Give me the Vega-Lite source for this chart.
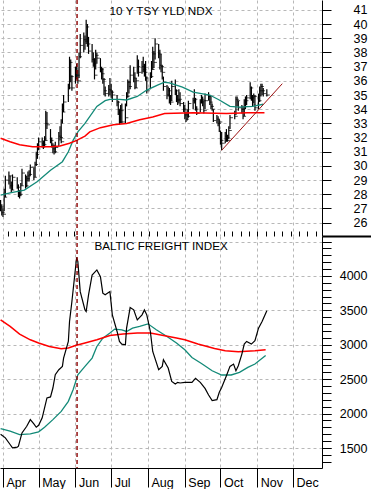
{
"$schema": "https://vega.github.io/schema/vega-lite/v6.json",
"padding": 0,
"background": "white",
"spacing": 0,
"bounds": "flush",
"config": {
  "font": "Liberation Sans",
  "view": {"stroke": null},
  "axis": {"gridColor": "#b8b8b8", "gridDash": [3, 3], "gridWidth": 1, "domainColor": "#000", "tickColor": "#000", "labelColor": "#000", "labelFont": "Liberation Sans", "labelFontSize": 12.5, "title": null}
},
"datasets": {
  "tsy": [
{"d":"2009-03-30","h":27.6,"l":26.8,"c":27.1},{"d":"2009-03-31","h":27.3,"l":26.5,"c":26.7},{"d":"2009-04-01","h":27.0,"l":26.4,"c":26.6},{"d":"2009-04-02","h":28.4,"l":26.8,"c":27.8},{"d":"2009-04-03","h":29.3,"l":27.8,"c":29.0},{"d":"2009-04-06","h":29.6,"l":28.7,"c":29.3},{"d":"2009-04-07","h":29.3,"l":28.4,"c":28.6},{"d":"2009-04-08","h":28.9,"l":28.1,"c":28.3},{"d":"2009-04-09","h":29.4,"l":28.3,"c":29.2},{"d":"2009-04-13","h":29.2,"l":28.4,"c":28.5},{"d":"2009-04-14","h":28.7,"l":27.8,"c":27.9},{"d":"2009-04-15","h":28.3,"l":27.7,"c":28.0},{"d":"2009-04-16","h":28.8,"l":27.9,"c":28.6},{"d":"2009-04-17","h":29.8,"l":28.6,"c":29.5},{"d":"2009-04-20","h":29.4,"l":28.4,"c":28.6},{"d":"2009-04-21","h":29.3,"l":28.5,"c":29.1},{"d":"2009-04-22","h":29.6,"l":28.9,"c":29.3},{"d":"2009-04-23","h":29.7,"l":28.9,"c":29.4},{"d":"2009-04-24","h":30.1,"l":29.3,"c":29.9},{"d":"2009-04-27","h":29.9,"l":29.0,"c":29.2},{"d":"2009-04-28","h":30.3,"l":29.2,"c":30.1},{"d":"2009-04-29","h":31.0,"l":30.0,"c":30.8},{"d":"2009-04-30","h":31.6,"l":30.5,"c":31.2},{"d":"2009-05-01","h":32.0,"l":31.1,"c":31.7},{"d":"2009-05-04","h":32.0,"l":31.3,"c":31.6},{"d":"2009-05-05","h":31.8,"l":31.2,"c":31.5},{"d":"2009-05-06","h":32.1,"l":31.3,"c":31.8},{"d":"2009-05-07","h":33.9,"l":31.8,"c":33.0},{"d":"2009-05-08","h":33.8,"l":32.6,"c":32.9},{"d":"2009-05-11","h":32.6,"l":31.6,"c":31.8},{"d":"2009-05-12","h":32.0,"l":31.3,"c":31.4},{"d":"2009-05-13","h":31.6,"l":30.9,"c":31.2},{"d":"2009-05-14","h":31.5,"l":30.8,"c":31.0},{"d":"2009-05-15","h":31.7,"l":30.9,"c":31.3},{"d":"2009-05-18","h":32.4,"l":31.4,"c":32.1},{"d":"2009-05-19","h":32.8,"l":31.8,"c":32.0},{"d":"2009-05-20","h":33.3,"l":31.6,"c":31.7},{"d":"2009-05-21","h":34.4,"l":33.0,"c":33.8},{"d":"2009-05-22","h":35.0,"l":33.8,"c":34.5},{"d":"2009-05-26","h":35.8,"l":34.5,"c":35.5},{"d":"2009-05-27","h":37.7,"l":35.4,"c":37.3},{"d":"2009-05-28","h":37.5,"l":35.9,"c":36.3},{"d":"2009-05-29","h":36.4,"l":35.3,"c":35.5},{"d":"2009-06-01","h":37.0,"l":35.8,"c":36.9},{"d":"2009-06-02","h":37.2,"l":36.1,"c":36.4},{"d":"2009-06-03","h":36.8,"l":35.8,"c":36.0},{"d":"2009-06-04","h":38.0,"l":36.2,"c":37.7},{"d":"2009-06-05","h":39.3,"l":37.6,"c":38.5},{"d":"2009-06-08","h":39.4,"l":38.0,"c":38.9},{"d":"2009-06-09","h":39.2,"l":38.2,"c":38.8},{"d":"2009-06-10","h":40.3,"l":38.6,"c":39.8},{"d":"2009-06-11","h":40.0,"l":38.4,"c":38.6},{"d":"2009-06-12","h":39.1,"l":37.9,"c":38.1},{"d":"2009-06-15","h":38.6,"l":37.3,"c":37.5},{"d":"2009-06-16","h":38.0,"l":37.0,"c":37.2},{"d":"2009-06-17","h":37.6,"l":36.1,"c":36.4},{"d":"2009-06-18","h":38.2,"l":36.8,"c":37.8},{"d":"2009-06-19","h":38.0,"l":37.2,"c":37.6},{"d":"2009-06-22","h":37.6,"l":36.6,"c":36.8},{"d":"2009-06-23","h":37.0,"l":36.1,"c":36.5},{"d":"2009-06-24","h":36.9,"l":35.8,"c":36.1},{"d":"2009-06-25","h":36.2,"l":35.0,"c":35.3},{"d":"2009-06-26","h":35.6,"l":34.9,"c":35.1},{"d":"2009-06-29","h":35.7,"l":34.9,"c":35.4},{"d":"2009-06-30","h":36.2,"l":35.0,"c":35.3},{"d":"2009-07-01","h":35.8,"l":34.8,"c":35.2},{"d":"2009-07-02","h":35.3,"l":34.5,"c":35.0},{"d":"2009-07-06","h":35.0,"l":34.2,"c":34.5},{"d":"2009-07-07","h":34.6,"l":33.6,"c":34.0},{"d":"2009-07-08","h":34.0,"l":32.9,"c":33.1},{"d":"2009-07-09","h":34.3,"l":33.0,"c":33.9},{"d":"2009-07-10","h":34.4,"l":33.0,"c":33.1},{"d":"2009-07-13","h":34.4,"l":33.0,"c":33.4},{"d":"2009-07-14","h":35.2,"l":34.2,"c":34.9},{"d":"2009-07-15","h":36.1,"l":34.8,"c":35.9},{"d":"2009-07-16","h":36.0,"l":35.1,"c":35.6},{"d":"2009-07-17","h":37.1,"l":35.4,"c":36.4},{"d":"2009-07-20","h":37.0,"l":35.9,"c":36.2},{"d":"2009-07-21","h":36.6,"l":35.4,"c":35.5},{"d":"2009-07-22","h":36.2,"l":35.5,"c":36.0},{"d":"2009-07-23","h":37.8,"l":36.5,"c":37.0},{"d":"2009-07-24","h":37.5,"l":36.3,"c":36.6},{"d":"2009-07-27","h":37.4,"l":36.5,"c":37.0},{"d":"2009-07-28","h":37.7,"l":36.6,"c":36.8},{"d":"2009-07-29","h":37.2,"l":36.3,"c":36.6},{"d":"2009-07-30","h":37.4,"l":36.0,"c":36.2},{"d":"2009-07-31","h":36.3,"l":35.1,"c":35.3},{"d":"2009-08-03","h":36.6,"l":35.4,"c":36.3},{"d":"2009-08-04","h":37.4,"l":36.2,"c":36.8},{"d":"2009-08-05","h":38.4,"l":36.8,"c":37.9},{"d":"2009-08-06","h":38.1,"l":36.9,"c":37.3},{"d":"2009-08-07","h":39.0,"l":37.5,"c":38.6},{"d":"2009-08-10","h":38.6,"l":37.6,"c":37.9},{"d":"2009-08-11","h":38.2,"l":36.8,"c":37.1},{"d":"2009-08-12","h":37.9,"l":36.6,"c":37.0},{"d":"2009-08-13","h":37.1,"l":36.1,"c":36.6},{"d":"2009-08-14","h":36.3,"l":35.3,"c":35.6},{"d":"2009-08-17","h":35.7,"l":34.7,"c":35.0},{"d":"2009-08-18","h":35.6,"l":34.9,"c":35.3},{"d":"2009-08-19","h":35.5,"l":34.4,"c":34.6},{"d":"2009-08-20","h":35.0,"l":34.3,"c":34.5},{"d":"2009-08-21","h":36.0,"l":34.6,"c":35.6},{"d":"2009-08-24","h":36.1,"l":35.0,"c":35.3},{"d":"2009-08-25","h":35.4,"l":34.5,"c":34.7},{"d":"2009-08-26","h":35.0,"l":34.3,"c":34.6},{"d":"2009-08-27","h":35.4,"l":34.4,"c":34.7},{"d":"2009-08-28","h":35.2,"l":34.2,"c":34.4},{"d":"2009-08-31","h":34.5,"l":33.8,"c":34.0},{"d":"2009-09-01","h":34.3,"l":33.3,"c":33.6},{"d":"2009-09-02","h":33.8,"l":33.1,"c":33.3},{"d":"2009-09-03","h":34.0,"l":33.2,"c":33.5},{"d":"2009-09-04","h":34.6,"l":33.4,"c":34.4},{"d":"2009-09-08","h":34.8,"l":34.0,"c":34.6},{"d":"2009-09-09","h":35.4,"l":34.4,"c":34.7},{"d":"2009-09-10","h":34.8,"l":33.9,"c":34.0},{"d":"2009-09-11","h":34.2,"l":33.6,"c":33.7},{"d":"2009-09-14","h":34.7,"l":33.8,"c":34.5},{"d":"2009-09-15","h":35.0,"l":34.4,"c":34.7},{"d":"2009-09-16","h":34.9,"l":34.2,"c":34.6},{"d":"2009-09-17","h":34.6,"l":33.7,"c":33.9},{"d":"2009-09-18","h":35.1,"l":34.0,"c":34.6},{"d":"2009-09-21","h":35.2,"l":34.6,"c":34.9},{"d":"2009-09-22","h":35.0,"l":34.3,"c":34.5},{"d":"2009-09-23","h":34.9,"l":34.0,"c":34.2},{"d":"2009-09-24","h":34.4,"l":33.9,"c":34.0},{"d":"2009-09-25","h":34.0,"l":33.1,"c":33.2},{"d":"2009-09-28","h":33.6,"l":33.0,"c":33.3},{"d":"2009-09-29","h":33.5,"l":32.8,"c":33.0},{"d":"2009-09-30","h":33.3,"l":32.4,"c":33.1},{"d":"2009-10-01","h":32.5,"l":31.5,"c":31.8},{"d":"2009-10-02","h":32.4,"l":31.1,"c":31.6},{"d":"2009-10-05","h":32.4,"l":31.6,"c":32.1},{"d":"2009-10-06","h":32.6,"l":31.7,"c":32.0},{"d":"2009-10-07","h":32.2,"l":31.7,"c":31.8},{"d":"2009-10-08","h":32.8,"l":31.9,"c":32.5},{"d":"2009-10-09","h":33.6,"l":32.6,"c":33.4},{"d":"2009-10-13","h":33.9,"l":33.3,"c":33.5},{"d":"2009-10-14","h":34.9,"l":33.6,"c":34.7},{"d":"2009-10-15","h":34.9,"l":34.2,"c":34.6},{"d":"2009-10-16","h":34.6,"l":33.9,"c":34.1},{"d":"2009-10-19","h":34.3,"l":33.7,"c":34.0},{"d":"2009-10-20","h":34.2,"l":33.3,"c":33.5},{"d":"2009-10-21","h":34.7,"l":33.5,"c":34.2},{"d":"2009-10-22","h":34.9,"l":34.0,"c":34.6},{"d":"2009-10-23","h":35.0,"l":34.3,"c":34.8},{"d":"2009-10-26","h":35.9,"l":34.7,"c":35.5},{"d":"2009-10-27","h":35.6,"l":34.6,"c":34.8},{"d":"2009-10-28","h":35.0,"l":34.2,"c":34.3},{"d":"2009-10-29","h":35.1,"l":34.4,"c":34.9},{"d":"2009-10-30","h":35.0,"l":33.9,"c":34.1},{"d":"2009-11-02","h":35.1,"l":34.0,"c":34.6},{"d":"2009-11-03","h":35.6,"l":34.5,"c":35.3},{"d":"2009-11-04","h":35.8,"l":34.9,"c":35.6},{"d":"2009-11-05","h":35.8,"l":35.0,"c":35.3},{"d":"2009-11-06","h":35.5,"l":34.9,"c":35.1},{"d":"2009-11-09","h":35.4,"l":34.9,"c":35.0}
  ],
  "tsy_g": [
{"d":"2009-03-30","v":27.95},{"d":"2009-04-07","v":28.1},{"d":"2009-04-19","v":28.3},{"d":"2009-04-30","v":28.9},{"d":"2009-05-11","v":29.7},{"d":"2009-05-21","v":30.3},{"d":"2009-05-26","v":31.0},{"d":"2009-05-30","v":31.8},{"d":"2009-06-03","v":32.4},{"d":"2009-06-09","v":33.0},{"d":"2009-06-19","v":34.2},{"d":"2009-06-26","v":34.6},{"d":"2009-06-30","v":34.7},{"d":"2009-07-08","v":34.7},{"d":"2009-07-14","v":34.65},{"d":"2009-07-23","v":34.9},{"d":"2009-07-31","v":35.35},{"d":"2009-08-09","v":35.7},{"d":"2009-08-15","v":35.9},{"d":"2009-08-19","v":35.85},{"d":"2009-08-30","v":35.55},{"d":"2009-09-08","v":35.2},{"d":"2009-09-22","v":35.0},{"d":"2009-09-30","v":34.65},{"d":"2009-10-09","v":34.2},{"d":"2009-10-17","v":34.15},{"d":"2009-10-28","v":34.2},{"d":"2009-11-06","v":34.35}
  ],
  "tsy_r": [
{"d":"2009-03-30","v":31.95},{"d":"2009-04-07","v":31.7},{"d":"2009-04-15","v":31.5},{"d":"2009-04-26","v":31.35},{"d":"2009-05-11","v":31.35},{"d":"2009-05-19","v":31.4},{"d":"2009-05-27","v":31.6},{"d":"2009-06-02","v":31.8},{"d":"2009-06-09","v":32.1},{"d":"2009-06-13","v":32.4},{"d":"2009-06-22","v":32.7},{"d":"2009-07-03","v":32.9},{"d":"2009-07-14","v":33.0},{"d":"2009-07-25","v":33.25},{"d":"2009-08-05","v":33.45},{"d":"2009-08-15","v":33.7},{"d":"2009-09-08","v":33.75},{"d":"2009-10-06","v":33.7},{"d":"2009-10-24","v":33.75},{"d":"2009-11-07","v":33.75}
  ],
  "trend": [{"d":"2009-10-02","v":31.1},{"d":"2009-11-22","v":35.8}],
  "event": [{"d":"2009-06-02T08:00:00Z"}],
  "bdi": [
{"d":"2009-03-30","v":1700},{"d":"2009-04-03","v":1648},{"d":"2009-04-07","v":1551},{"d":"2009-04-09","v":1503},{"d":"2009-04-13","v":1512},{"d":"2009-04-14","v":1526},{"d":"2009-04-17","v":1720},{"d":"2009-04-21","v":1816},{"d":"2009-04-24","v":1913},{"d":"2009-04-27","v":1851},{"d":"2009-04-29","v":1802},{"d":"2009-05-01","v":1831},{"d":"2009-05-04","v":1938},{"d":"2009-05-08","v":2228},{"d":"2009-05-11","v":2242},{"d":"2009-05-13","v":2372},{"d":"2009-05-15","v":2565},{"d":"2009-05-18","v":2638},{"d":"2009-05-21","v":2686},{"d":"2009-05-22","v":2807},{"d":"2009-05-26","v":3048},{"d":"2009-05-27","v":3338},{"d":"2009-05-29","v":3628},{"d":"2009-06-01","v":4111},{"d":"2009-06-02","v":4270},{"d":"2009-06-03","v":4207},{"d":"2009-06-05","v":3772},{"d":"2009-06-09","v":3507},{"d":"2009-06-10","v":3483},{"d":"2009-06-12","v":3725},{"d":"2009-06-15","v":4014},{"d":"2009-06-19","v":4087},{"d":"2009-06-22","v":3990},{"d":"2009-06-24","v":3749},{"d":"2009-06-26","v":3725},{"d":"2009-06-30","v":3772},{"d":"2009-07-02","v":3435},{"d":"2009-07-06","v":3193},{"d":"2009-07-08","v":3048},{"d":"2009-07-10","v":3010},{"d":"2009-07-13","v":3000},{"d":"2009-07-14","v":3242},{"d":"2009-07-17","v":3541},{"d":"2009-07-20","v":3507},{"d":"2009-07-23","v":3362},{"d":"2009-07-27","v":3435},{"d":"2009-07-29","v":3507},{"d":"2009-07-31","v":3435},{"d":"2009-08-03","v":3193},{"d":"2009-08-05","v":2903},{"d":"2009-08-10","v":2638},{"d":"2009-08-13","v":2686},{"d":"2009-08-14","v":2783},{"d":"2009-08-18","v":2662},{"d":"2009-08-21","v":2468},{"d":"2009-08-24","v":2430},{"d":"2009-08-26","v":2454},{"d":"2009-08-28","v":2445},{"d":"2009-09-01","v":2454},{"d":"2009-09-07","v":2454},{"d":"2009-09-10","v":2512},{"d":"2009-09-14","v":2454},{"d":"2009-09-18","v":2367},{"d":"2009-09-21","v":2271},{"d":"2009-09-24","v":2188},{"d":"2009-09-28","v":2203},{"d":"2009-09-30","v":2309},{"d":"2009-10-02","v":2381},{"d":"2009-10-06","v":2551},{"d":"2009-10-09","v":2686},{"d":"2009-10-12","v":2720},{"d":"2009-10-14","v":2623},{"d":"2009-10-16","v":2696},{"d":"2009-10-19","v":2865},{"d":"2009-10-21","v":3010},{"d":"2009-10-23","v":3048},{"d":"2009-10-27","v":3010},{"d":"2009-10-30","v":3058},{"d":"2009-11-02","v":3242},{"d":"2009-11-05","v":3338},{"d":"2009-11-09","v":3493}
  ],
  "bdi_g": [
{"d":"2009-03-30","v":1783},{"d":"2009-04-07","v":1744},{"d":"2009-04-15","v":1696},{"d":"2009-04-24","v":1706},{"d":"2009-05-01","v":1735},{"d":"2009-05-06","v":1802},{"d":"2009-05-13","v":1913},{"d":"2009-05-20","v":2033},{"d":"2009-05-26","v":2178},{"d":"2009-05-30","v":2348},{"d":"2009-06-03","v":2565},{"d":"2009-06-09","v":2686},{"d":"2009-06-15","v":2807},{"d":"2009-06-19","v":2975},{"d":"2009-06-24","v":3097},{"d":"2009-06-30","v":3170},{"d":"2009-07-04","v":3228},{"d":"2009-07-10","v":3217},{"d":"2009-07-14","v":3193},{"d":"2009-07-19","v":3242},{"d":"2009-07-25","v":3266},{"d":"2009-08-01","v":3304},{"d":"2009-08-08","v":3217},{"d":"2009-08-17","v":3121},{"d":"2009-08-25","v":3025},{"d":"2009-09-01","v":2928},{"d":"2009-09-07","v":2816},{"d":"2009-09-15","v":2729},{"d":"2009-09-24","v":2623},{"d":"2009-10-02","v":2561},{"d":"2009-10-10","v":2561},{"d":"2009-10-17","v":2599},{"d":"2009-10-24","v":2671},{"d":"2009-10-30","v":2720},{"d":"2009-11-08","v":2845}
  ],
  "bdi_r": [
{"d":"2009-03-30","v":3362},{"d":"2009-04-07","v":3266},{"d":"2009-04-15","v":3155},{"d":"2009-04-24","v":3072},{"d":"2009-05-01","v":3025},{"d":"2009-05-10","v":2975},{"d":"2009-05-20","v":2942},{"d":"2009-05-26","v":2952},{"d":"2009-06-01","v":2990},{"d":"2009-06-09","v":3025},{"d":"2009-06-19","v":3072},{"d":"2009-06-30","v":3135},{"d":"2009-07-11","v":3155},{"d":"2009-07-23","v":3170},{"d":"2009-08-03","v":3170},{"d":"2009-08-14","v":3135},{"d":"2009-08-25","v":3097},{"d":"2009-09-01","v":3072},{"d":"2009-09-12","v":3010},{"d":"2009-09-26","v":2947},{"d":"2009-10-05","v":2913},{"d":"2009-10-16","v":2899},{"d":"2009-10-30","v":2913},{"d":"2009-11-08","v":2928}
  ]
},
"vconcat": [
  {
    "width": 322, "height": 236,
    "resolve": {"axis": {"x": "independent", "y": "independent"}},
    "layer": [
      {"data": {"name": "tsy"}, "mark": {"type": "rule", "color": "#000", "strokeWidth": 1.2, "clip": true},
       "encoding": {
         "x": {"field": "d", "type": "temporal", "scale": {"type": "utc", "domain": [{"year": 2009, "month": 3, "date": 29, "hours": 12, "utc": true}, {"year": 2009, "month": 12, "date": 25, "hours": 10, "utc": true}]}, "axis": {"labels": false, "ticks": false, "domain": false, "grid": true, "tickCount": {"interval": "month", "step": 1}}},
         "y": {"field": "l", "type": "quantitative", "scale": {"domain": [25.06, 41.7], "nice": false, "zero": false}, "axis": {"orient": "right", "values": [26,27,28,29,30,31,32,33,34,35,36,37,38,39,40,41], "tickSize": 9, "labelAlign": "right", "labelPadding": 36, "grid": true, "format": "d"}},
         "y2": {"field": "h"}
       }},
      {"data": {"name": "tsy"}, "mark": {"type": "tick", "orient": "horizontal", "size": 3, "thickness": 1, "xOffset": 1.5, "color": "#000", "clip": true},
       "encoding": {
         "x": {"field": "d", "type": "temporal", "axis": null},
         "y": {"field": "c", "type": "quantitative", "axis": null}
       }},
      {"data": {"name": "tsy_g"}, "mark": {"type": "line", "color": "#138a78", "strokeWidth": 1.3, "clip": true},
       "encoding": {
         "x": {"field": "d", "type": "temporal", "axis": null},
         "y": {"field": "v", "type": "quantitative", "axis": null}
       }},
      {"data": {"name": "tsy_r"}, "mark": {"type": "line", "color": "#ff0000", "strokeWidth": 1.5, "clip": true},
       "encoding": {
         "x": {"field": "d", "type": "temporal", "axis": null},
         "y": {"field": "v", "type": "quantitative", "axis": null}
       }},
      {"data": {"name": "trend"}, "mark": {"type": "line", "color": "#9b1010", "strokeWidth": 1, "clip": true},
       "encoding": {
         "x": {"field": "d", "type": "temporal", "axis": null},
         "y": {"field": "v", "type": "quantitative", "axis": {"orient": "right", "values": [25.06], "tickSize": 49, "tickWidth": 2, "labels": false, "domain": false, "grid": false}}
       }},
      {"data": {"name": "event"}, "mark": {"type": "rule", "color": "#8b0000", "strokeDash": [4, 3], "strokeWidth": 1.4, "clip": true},
       "encoding": {
         "x": {"field": "d", "type": "temporal", "axis": null}
       }},
      {"data": {"values": [{}]}, "mark": {"type": "text", "text": "10 Y TSY YLD NDX", "font": "Liberation Sans", "fontSize": 11.7, "baseline": "alphabetic", "align": "center", "color": "#000"},
       "encoding": {
         "x": {"datum": {"year": 2009, "month": 8, "date": 12, "utc": true}, "type": "temporal", "axis": null},
         "y": {"datum": 40.64, "type": "quantitative", "axis": null}
       }}
    ]
  },
  {
    "width": 322, "height": 232,
    "resolve": {"axis": {"x": "independent", "y": "independent"}},
    "layer": [
      {"data": {"name": "bdi_g"}, "mark": {"type": "line", "color": "#138a78", "strokeWidth": 1.3, "clip": true},
       "encoding": {
         "x": {"field": "d", "type": "temporal", "scale": {"type": "utc", "domain": [{"year": 2009, "month": 3, "date": 29, "hours": 12, "utc": true}, {"year": 2009, "month": 12, "date": 25, "hours": 10, "utc": true}]}, "axis": {"format": "%b", "tickCount": {"interval": "month", "step": 1}, "tickSize": 19, "labelAlign": "left", "labelOffset": 3, "labelBaseline": "alphabetic", "labelPadding": -1, "labelFlush": false, "labelOverlap": false, "grid": true, "domain": true}},
         "y": {"field": "v", "type": "quantitative", "scale": {"domain": [1210, 4580], "nice": false, "zero": false}, "axis": {"orient": "right", "values": [1500,2000,2500,3000,3500,4000,4500], "format": "d", "labelExpr": "datum.value > 4200 ? '' : datum.label", "tickSize": 9, "labelAlign": "right", "labelPadding": 36, "grid": true}}
       }},
      {"data": {"name": "bdi_r"}, "mark": {"type": "line", "color": "#ff0000", "strokeWidth": 1.5, "clip": true},
       "encoding": {
         "x": {"field": "d", "type": "temporal", "axis": {"tickCount": {"interval": "week", "step": 1}, "tickSize": 5, "labels": false, "domain": false, "grid": false}},
         "y": {"field": "v", "type": "quantitative", "axis": {"orient": "right", "values": [1300,1400,1500,1600,1700,1800,1900,2000,2100,2200,2300,2400,2500,2600,2700,2800,2900,3000,3100,3200,3300,3400,3500,3600,3700,3800,3900,4000,4100,4200,4300,4400,4500], "tickSize": 9, "labels": false, "domain": false, "grid": false}}
       }},
      {"data": {"name": "bdi"}, "mark": {"type": "line", "color": "#000", "strokeWidth": 1.2, "clip": true},
       "encoding": {
         "x": {"field": "d", "type": "temporal", "axis": null},
         "y": {"field": "v", "type": "quantitative", "axis": null}
       }},
      {"data": {"name": "event"}, "mark": {"type": "rule", "color": "#8b0000", "strokeDash": [4, 3], "strokeWidth": 1.4, "clip": true},
       "encoding": {
         "x": {"field": "d", "type": "temporal", "axis": null}
       }},
      {"data": {"values": [{}]}, "mark": {"type": "text", "text": "BALTIC FREIGHT INDEX", "font": "Liberation Sans", "fontSize": 11.7, "baseline": "alphabetic", "align": "center", "color": "#000"},
       "encoding": {
         "x": {"datum": {"year": 2009, "month": 8, "date": 12, "utc": true}, "type": "temporal", "axis": null},
         "y": {"datum": 4377, "type": "quantitative", "axis": null}
       }}
    ]
  }
]
}
